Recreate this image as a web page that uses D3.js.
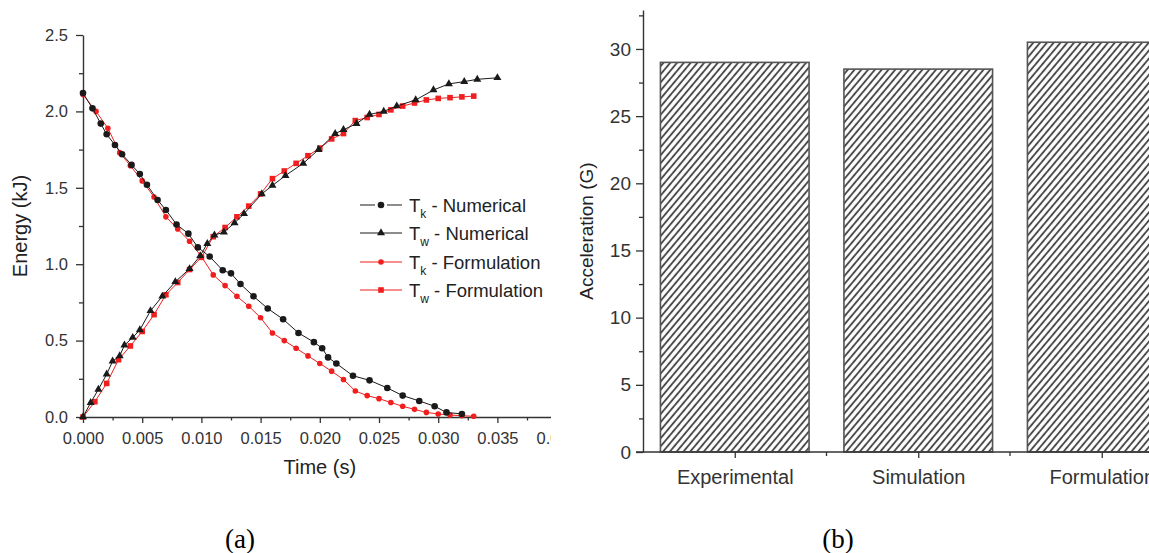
<!DOCTYPE html>
<html><head><meta charset="utf-8">
<script src="https://cdn.jsdelivr.net/npm/d3@7"></script>
<style>
body{margin:0;background:#fff}
svg{display:block}
text{font-family:"Liberation Sans",Arial,Helvetica,sans-serif}
</style>
</head><body>
<svg id="c" width="1149" height="553"></svg>
<script>
// ---------- Data: panel (a) ----------
const timeTicks = [0, 0.005, 0.010, 0.015, 0.020, 0.025, 0.030, 0.035, 0.040];
const energyTicks = [0, 0.5, 1.0, 1.5, 2.0, 2.5];

const tkNumT = [0,0.0008,0.0015,0.002,0.0027,0.0033,0.0041,0.0048,0.0054,0.0063,0.007,0.0079,0.0089,0.0097,0.0107,0.0118,0.0125,0.0133,0.0144,0.0156,0.0169,0.0182,0.0195,0.0202,0.0207,0.0214,0.0228,0.0242,0.0257,0.027,0.0284,0.0297,0.0307,0.032];
const tkNumE = [2.12,2.02,1.92,1.85,1.78,1.72,1.65,1.59,1.52,1.42,1.355,1.26,1.20,1.11,1.05,0.96,0.94,0.87,0.79,0.71,0.64,0.55,0.49,0.45,0.39,0.35,0.27,0.24,0.19,0.14,0.105,0.07,0.03,0.02];

const twNumT = [0,0.00065,0.0013,0.002,0.0025,0.0031,0.0035,0.0042,0.0048,0.0057,0.0067,0.0078,0.009,0.0099,0.0105,0.0111,0.0119,0.0128,0.0136,0.0151,0.016,0.0171,0.0186,0.0199,0.0213,0.022,0.0231,0.0242,0.0254,0.0265,0.0281,0.0296,0.0309,0.0322,0.0333,0.035];
const twNumE = [0,0.094,0.18,0.28,0.365,0.40,0.47,0.52,0.57,0.695,0.79,0.885,0.97,1.055,1.135,1.19,1.21,1.27,1.33,1.46,1.515,1.58,1.66,1.75,1.855,1.88,1.92,1.98,2.0,2.035,2.075,2.14,2.18,2.195,2.21,2.22];

const tkForT = [0,0.0011,0.0021,0.0031,0.004,0.005,0.006,0.007,0.008,0.009,0.010,0.011,0.012,0.013,0.014,0.015,0.016,0.017,0.018,0.019,0.020,0.021,0.022,0.023,0.024,0.025,0.026,0.027,0.028,0.029,0.030,0.031,0.032,0.033];
const tkForE = [2.11,2.0,1.89,1.73,1.645,1.545,1.44,1.31,1.23,1.15,1.05,0.93,0.86,0.79,0.725,0.65,0.55,0.50,0.45,0.40,0.35,0.30,0.245,0.17,0.14,0.12,0.095,0.07,0.05,0.03,0.02,0.013,0.008,0.005];

const twForT = [0,0.001,0.002,0.003,0.004,0.005,0.006,0.007,0.008,0.009,0.010,0.011,0.012,0.013,0.014,0.015,0.016,0.017,0.018,0.019,0.020,0.021,0.022,0.023,0.024,0.025,0.026,0.027,0.028,0.029,0.030,0.031,0.032,0.033];
const twForE = [0,0.10,0.22,0.375,0.465,0.56,0.67,0.80,0.88,0.965,1.045,1.18,1.24,1.31,1.38,1.46,1.56,1.61,1.66,1.71,1.76,1.82,1.855,1.94,1.96,1.98,2.01,2.035,2.055,2.075,2.085,2.09,2.095,2.10];

const legendLabels = [["T","k"," - Numerical"],["T","w"," - Numerical"],["T","k"," - Formulation"],["T","w"," - Formulation"]];

// ---------- Data: panel (b) ----------
const categories = ["Experimental","Simulation","Formulation"];
const accel = [29.0, 28.5, 30.5];
const accelTicks = [0,5,10,15,20,25,30];

const svg = d3.select("#c");
const defs = svg.append("defs");
defs.append("clipPath").attr("id","clipA").append("rect").attr("x",0).attr("y",0).attr("width",551).attr("height",553);
const pat = defs.append("pattern").attr("id","hatch").attr("patternUnits","userSpaceOnUse")
  .attr("width",5.2).attr("height",10).attr("patternTransform","rotate(40)");
pat.append("rect").attr("width",5.2).attr("height",10).attr("fill","#fff");
pat.append("line").attr("x1",2.6).attr("x2",2.6).attr("y1",0).attr("y2",10).attr("stroke","#4a4a4a").attr("stroke-width",1.9);

const axisColor = "#333";
function styleAxis(g, fs){
  g.selectAll("path.domain").attr("stroke",axisColor).attr("stroke-width",1.4);
  g.selectAll(".tick line").attr("stroke",axisColor).attr("stroke-width",1.3);
  g.selectAll(".tick text").attr("fill","#333").style("font-size",fs+"px").style("font-family",'"Liberation Sans",Arial,sans-serif');
}

// ---------- Panel (a) ----------
const A = svg.append("g").attr("clip-path","url(#clipA)");
const xL = d3.scaleLinear().domain([0,0.04]).range([83,556.6]);
const yL = d3.scaleLinear().domain([0,2.5]).range([417,35]);

const minorT = timeTicks.slice(0,-1).map(d=>d+0.0025);
const minorE = energyTicks.slice(0,-1).map(d=>d+0.25);

const gxm = A.append("g").attr("transform",`translate(0,${yL(0)})`)
  .call(d3.axisBottom(xL).tickValues(minorT).tickSize(3.5).tickFormat(""));
gxm.select(".domain").remove();
styleAxis(gxm,16.5);
const gx = A.append("g").attr("transform",`translate(0,${yL(0)})`)
  .call(d3.axisBottom(xL).tickValues(timeTicks).tickSize(6).tickSizeOuter(0).tickPadding(9).tickFormat(d3.format(".3f")));
styleAxis(gx,16.5);

const gym = A.append("g").attr("transform",`translate(${xL(0)},0)`)
  .call(d3.axisLeft(yL).tickValues(minorE).tickSize(4).tickFormat(""));
gym.select(".domain").remove();
styleAxis(gym,16.5);
const gy = A.append("g").attr("transform",`translate(${xL(0)},0)`)
  .call(d3.axisLeft(yL).tickValues(energyTicks).tickSize(7).tickSizeOuter(0).tickPadding(8).tickFormat(d3.format(".1f")));
styleAxis(gy,16.5);

A.append("text").attr("transform",`translate(27,${(yL(0)+yL(2.5))/2}) rotate(-90)`)
  .attr("text-anchor","middle").attr("fill","#222").style("font-size","20px").text("Energy (kJ)");
A.append("text").attr("x",(xL(0)+xL(0.04))/2).attr("y",474).attr("text-anchor","middle")
  .attr("fill","#222").style("font-size","20px").text("Time (s)");

const black = "#1a1a1a", red = "#f01e1e";
const series = [
  {t:tkNumT, e:tkNumE, color:black, marker:"circle", lw:1},
  {t:twNumT, e:twNumE, color:black, marker:"triangle", lw:1},
  {t:tkForT, e:tkForE, color:red, marker:"dot", lw:1},
  {t:twForT, e:twForE, color:red, marker:"square", lw:1}
];
function drawMarker(g, kind, x, y, color){
  if(kind==="circle") g.append("circle").attr("cx",x).attr("cy",y).attr("r",3.3).attr("fill",color);
  else if(kind==="dot") g.append("circle").attr("cx",x).attr("cy",y).attr("r",2.8).attr("fill",color);
  else if(kind==="triangle") g.append("path").attr("d",d3.symbol(d3.symbolTriangle,28)()).attr("transform",`translate(${x},${y})`).attr("fill",color);
  else if(kind==="square") g.append("rect").attr("x",x-2.8).attr("y",y-2.8).attr("width",5.6).attr("height",5.6).attr("fill",color);
}
const line = d3.line().x(d=>xL(d[0])).y(d=>yL(d[1]));
[2,3,0,1].forEach(i=>{
  const s = series[i];
  const pts = s.t.map((t,j)=>[t,s.e[j]]);
  A.append("path").attr("d",line(pts)).attr("fill","none").attr("stroke",s.color).attr("stroke-width",s.lw);
  const mg = A.append("g");
  pts.forEach(p=>drawMarker(mg,s.marker,xL(p[0]),yL(p[1]),s.color));
});

// legend
const lg = A.append("g");
const legY = [205,233,262,290];
series.forEach((s,i)=>{
  const y = legY[i];
  if(i===0){
    lg.append("line").attr("x1",360).attr("x2",375).attr("y1",y).attr("y2",y).attr("stroke",s.color).attr("stroke-width",1);
    lg.append("line").attr("x1",387).attr("x2",402).attr("y1",y).attr("y2",y).attr("stroke",s.color).attr("stroke-width",1);
  } else {
    lg.append("line").attr("x1",360).attr("x2",402).attr("y1",y).attr("y2",y).attr("stroke",s.color).attr("stroke-width",1);
  }
  drawMarker(lg,s.marker,381,y,s.color);
  const t = lg.append("text").attr("x",409).attr("y",y+6.5).attr("fill","#222").style("font-size","18.5px");
  t.append("tspan").text(legendLabels[i][0]);
  t.append("tspan").attr("dy",6).style("font-size","12px").text(legendLabels[i][1]);
  t.append("tspan").attr("dy",-6).text(legendLabels[i][2]);
});

// ---------- Panel (b) ----------
const B = svg.append("g");
const xB = d3.scaleBand().domain(categories).range([643,643+3*183.5]).paddingInner(0.19).paddingOuter(0.095);
const yB = d3.scaleLinear().domain([0,32.9]).range([452,10]);

B.selectAll("rect.bar").data(categories).enter().append("rect").attr("class","bar")
  .attr("x",d=>xB(d)).attr("width",xB.bandwidth())
  .attr("y",(d,i)=>yB(accel[i])).attr("height",(d,i)=>yB(0)-yB(accel[i]))
  .attr("fill","url(#hatch)").attr("stroke","#555").attr("stroke-width",1.6);

const minorA = accelTicks.map(d=>d+2.5);
const gyBm = B.append("g").attr("transform",`translate(643,0)`)
  .call(d3.axisLeft(yB).tickValues(minorA).tickSize(4).tickFormat(""));
gyBm.select(".domain").remove();
styleAxis(gyBm,19);
const gyB = B.append("g").attr("transform",`translate(643,0)`)
  .call(d3.axisLeft(yB).tickValues(accelTicks).tickSize(7).tickSizeOuter(0).tickPadding(5).tickFormat(d3.format("d")));
styleAxis(gyB,19);

B.append("line").attr("x1",636).attr("x2",1149).attr("y1",yB(0)).attr("y2",yB(0)).attr("stroke",axisColor).attr("stroke-width",1.4);
const centers = categories.map(c=>xB(c)+xB.bandwidth()/2);
const gxB = B.append("g").attr("transform",`translate(0,${yB(0)})`)
  .call(d3.axisBottom(d3.scalePoint().domain(categories).range([centers[0],centers[2]])).tickSize(6).tickPadding(12).tickSizeOuter(0));
gxB.select(".domain").remove();
styleAxis(gxB,20);
const bounds = centers.slice(0,-1).map((c,i)=>(c+centers[i+1])/2);
B.selectAll("line.bnd").data(bounds).enter().append("line")
  .attr("x1",d=>d).attr("x2",d=>d).attr("y1",yB(0)).attr("y2",yB(0)+4).attr("stroke",axisColor).attr("stroke-width",1.3);

B.append("text").attr("transform",`translate(593,${(yB(0)+10)/2}) rotate(-90)`)
  .attr("text-anchor","middle").attr("fill","#222").style("font-size","19px").text("Acceleration (G)");

// panel labels
svg.append("text").attr("x",240).attr("y",548).attr("text-anchor","middle").attr("fill","#000")
  .style("font-family",'"Liberation Serif","Times New Roman",serif').style("font-size","27px").text("(a)");
svg.append("text").attr("x",838).attr("y",548).attr("text-anchor","middle").attr("fill","#000")
  .style("font-family",'"Liberation Serif","Times New Roman",serif').style("font-size","27px").text("(b)");
</script>
</body></html>
